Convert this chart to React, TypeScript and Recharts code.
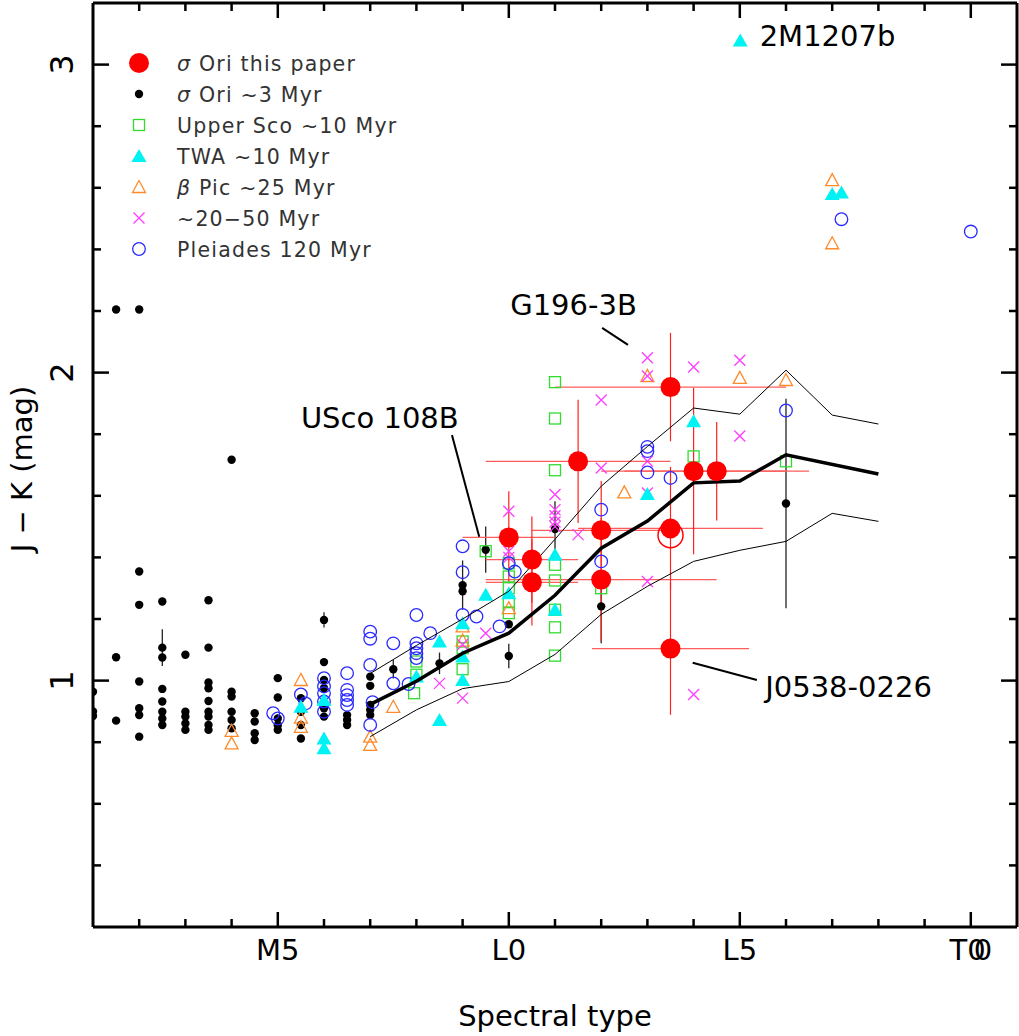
import React from "react";
import {
  ScatterChart,
  Scatter,
  XAxis,
  YAxis,
  ErrorBar,
  Legend,
  Label,
  ReferenceLine,
  ReferenceDot,
} from "recharts";

// spectral type as a number: M0 = 0, L0 = 10, T0 = 20
const spTicks = [2, 3, 4, 5, 6, 7, 8, 9, 10, 11, 12, 13, 14, 15, 16, 17, 18, 19, 20];
const spTickLabels: Record<number, string> = { 5: "M5", 10: "L0", 15: "L5", 20: "T0" };
const jkTicks = [0.4, 0.6, 0.8, 1, 1.2, 1.4, 1.6, 1.8, 2, 2.2, 2.4, 2.6, 2.8, 3];

const pts = (rows: number[][]) => rows.map(([sp, jk]) => ({ sp, jk }));

// sigma Ori, this paper: [sp, J-K, sp error, J-K error]
const sigmaOriNew = [
  [10.0, 1.465, 1.0, 0.15],
  [10.5, 1.393, 1.0, 0.14],
  [10.5, 1.319, 1.0, 0.14],
  [11.5, 1.712, 2.0, 0.2],
  [12.0, 1.488, 1.5, 0.16],
  [12.0, 1.328, 2.5, 0.2],
  [13.5, 1.953, 2.5, 0.176],
  [13.5, 1.494, 2.0, 0.2],
  [13.5, 1.104, 1.7, 0.215],
  [14.0, 1.68, 2.0, 0.27],
  [14.5, 1.68, 2.0, 0.16],
].map(([sp, jk, xe, ye]) => ({ sp, jk, xe, ye }));

const sigmaOriOpen = pts([[13.5, 1.472]]);

const sigmaOri3 = pts([
  [1, 0.964], [1, 0.9], [1, 0.885],
  [1.5, 2.205], [1.5, 1.076], [1.5, 0.87],
  [2, 2.205], [2, 1.354], [2, 1.246], [2, 0.997], [2, 0.91], [2, 0.888], [2, 0.818],
  [2.5, 1.257], [2.5, 1.075], [2.5, 0.973], [2.5, 0.932], [2.5, 0.899], [2.5, 0.877], [2.5, 0.856],
  [3, 1.084], [3, 0.899], [3, 0.883], [3, 0.861], [3, 0.84],
  [3.5, 1.261], [3.5, 1.107], [3.5, 0.994], [3.5, 0.975], [3.5, 0.934], [3.5, 0.899], [3.5, 0.883], [3.5, 0.856], [3.5, 0.84],
  [4, 1.717], [4, 0.964], [4, 0.948], [4, 0.899], [4, 0.872], [4, 0.845],
  [4.5, 0.894], [4.5, 0.867], [4.5, 0.829], [4.5, 0.807],
  [5, 1.008], [5, 0.945], [5, 0.877], [5, 0.855], [5, 0.84],
  [5.5, 0.943], [5.5, 0.899], [5.5, 0.856], [5.5, 0.812],
  [6, 1.06], [6, 1.002], [6, 0.975], [6, 0.91], [6, 0.883],
  [6.5, 0.888], [6.5, 0.872], [6.5, 0.856],
  [7, 1.013], [7, 0.983], [7, 0.921], [7, 0.905], [7, 0.888],
  [9, 1.29], [10, 1.183],
]);

// sigma Ori ~3 Myr objects with a J-K error bar
const sigmaOri3Err = [
  [2.5, 1.107, 0.06],
  [6, 1.197, 0.025],
  [7.5, 1.037, 0.03],
  [8.5, 1.056, 0.035],
  [9, 1.31, 0.08],
  [9.5, 1.425, 0.075],
  [10, 1.08, 0.04],
  [11, 1.492, 0.09],
  [12, 1.241, 0.12],
  [16, 1.575, 0.34],
].map(([sp, jk, ye]) => ({ sp, jk, ye }));

const upperSco = pts([
  [8, 1.062], [8, 1.019], [7.95, 0.959],
  [9, 1.127], [9, 1.105], [9, 1.037],
  [9.5, 1.42],
  [10, 1.381], [10, 1.338], [10, 1.3], [10, 1.257], [10, 1.219],
  [11, 1.969], [11, 1.851], [11, 1.683], [11, 1.376], [11, 1.325], [11, 1.23], [11, 1.173], [11, 1.081],
  [12, 1.3], [14, 1.728], [16, 1.712],
]);

const twa = pts([
  [5.5, 0.915], [6, 0.937], [6, 0.812], [6, 0.78],
  [8, 1.013], [8.5, 1.127], [8.5, 0.872],
  [9, 1.186], [9, 1.078], [9, 1.002],
  [9.5, 1.279], [10, 1.284], [11, 1.409], [11, 1.23],
  [13, 1.606], [14, 1.842], [17, 2.58], [17.2, 2.585],
]);

const betaPic = pts([
  [4, 0.837], [4, 0.796],
  [5.5, 1.002], [5.5, 0.88], [5.5, 0.85],
  [7, 0.818], [7, 0.791], [7.5, 0.915],
  [9, 1.176], [9, 1.13], [10, 1.235],
  [12.5, 1.611], [13, 1.989], [15, 1.983], [16, 1.976],
  [17, 2.625], [17, 2.42],
]);

const young = pts([
  [8.5, 0.991], [9, 1.117], [9, 0.943], [9.5, 1.154],
  [10, 1.55], [10, 1.42], [10, 1.4],
  [11, 1.604], [11, 1.555], [11, 1.535], [11, 1.515], [11, 1.5],
  [11.5, 1.474], [12, 1.911], [12, 1.69],
  [13, 2.048], [13, 1.989], [13, 1.712], [13, 1.609], [13, 1.322],
  [14, 2.018], [14, 0.955], [15, 2.04], [15, 1.794],
]);

const pleiades = pts([
  [4.9, 0.894], [5, 0.877], [5.5, 0.955], [5.6, 0.926],
  [6, 1.008], [6, 0.981], [6, 0.959], [6, 0.932], [6, 0.899],
  [6.5, 1.024], [6.5, 0.97], [6.5, 0.953], [6.5, 0.937], [6.5, 0.921],
  [7, 1.159], [7, 1.136], [7, 1.051], [7, 0.856], [7.05, 0.93],
  [7.5, 1.121], [7.5, 0.991], [7.83, 0.989],
  [8, 1.213], [8, 1.121], [8, 1.105], [8, 1.089], [8, 1.073], [8.3, 1.154],
  [9, 1.436], [9, 1.352], [9, 1.213], [9.3, 1.208], [9.8, 1.176],
  [10, 1.381], [10.13, 1.354],
  [12, 1.555], [12, 1.387],
  [13, 1.759], [13, 1.745], [13, 1.676], [13.5, 1.658],
  [16, 1.877], [17.2, 2.498], [20, 2.458],
]);

// field dwarf sequence: mean and its spread
const seqMean = pts([
  [7, 0.923], [8, 0.998], [9, 1.089], [10, 1.154], [11, 1.277], [12, 1.43],
  [13, 1.518], [14, 1.642], [15, 1.648], [16, 1.733], [18, 1.671],
]);
const seqUpper = pts([
  [7, 1.023], [8, 1.114], [9, 1.2], [10, 1.29], [11, 1.459], [12, 1.631],
  [13, 1.76], [14, 1.885], [15, 1.865], [16, 2.008], [17, 1.862], [18, 1.833],
]);
const seqLower = pts([
  [7, 0.818], [8, 0.905], [9, 0.974], [10, 0.997], [11, 1.085], [12, 1.215],
  [13, 1.306], [14, 1.387], [15, 1.423], [16, 1.452], [17, 1.543], [18, 1.517],
]);

// labelled objects: text anchor and leader line ends
const notes = [
  { text: "G196-3B", sp: 10.03, jk: 2.187, from: [12.02, 2.145], to: [12.58, 2.09] },
  { text: "USco 108B", sp: 5.5, jk: 1.82, from: [8.77, 1.797], to: [9.36, 1.467] },
  { text: "J0538-0226", sp: 15.55, jk: 0.946, from: [13.98, 1.058], to: [15.37, 1.002] },
];
const note2M1207 = { text: "2M1207b", sp: 15.43, jk: 3.059, markSp: 15.01, markJk: 3.078 };

const RED = "#ff0000";
const GREEN = "#30dc30";
const CYAN = "#00f2f2";
const ORANGE = "#ff8a2a";
const MAGENTA = "#ff3cff";
const BLUE = "#2a2aff";
const FONT = "DejaVu Sans, Verdana, sans-serif";

const RedDot = (p: any) => <circle cx={p.cx} cy={p.cy} r={10} fill={RED} />;
const RedRing = (p: any) => <circle cx={p.cx} cy={p.cy} r={12.5} fill="none" stroke={RED} strokeWidth={1.5} />;
const BlackDot = (p: any) => <circle cx={p.cx} cy={p.cy} r={4.2} fill="#000" />;
const GreenSquare = (p: any) => (
  <rect x={p.cx - 5.5} y={p.cy - 5.5} width={11} height={11} fill="none" stroke={GREEN} strokeWidth={1.3} />
);
const CyanTri = (p: any) => (
  <polygon points={`${p.cx},${p.cy - 7} ${p.cx - 7.5},${p.cy + 6} ${p.cx + 7.5},${p.cy + 6}`} fill={CYAN} />
);
const OrangeTri = (p: any) => (
  <polygon
    points={`${p.cx},${p.cy - 6.5} ${p.cx - 6.5},${p.cy + 5.5} ${p.cx + 6.5},${p.cy + 5.5}`}
    fill="none"
    stroke={ORANGE}
    strokeWidth={1.3}
  />
);
const MagentaX = (p: any) => (
  <path
    d={`M${p.cx - 5.5},${p.cy - 5.5}L${p.cx + 5.5},${p.cy + 5.5}M${p.cx - 5.5},${p.cy + 5.5}L${p.cx + 5.5},${p.cy - 5.5}`}
    stroke={MAGENTA}
    strokeWidth={1.3}
  />
);
const BlueRing = (p: any) => <circle cx={p.cx} cy={p.cy} r={6.3} fill="none" stroke={BLUE} strokeWidth={1.3} />;
const NoDot = () => <g />;

const legendRows = [
  { shape: RedDot, greek: "σ", rest: " Ori this paper" },
  { shape: BlackDot, greek: "σ", rest: " Ori ∼3 Myr" },
  { shape: GreenSquare, greek: "", rest: "Upper Sco ∼10 Myr" },
  { shape: CyanTri, greek: "", rest: "TWA ∼10 Myr" },
  { shape: OrangeTri, greek: "β", rest: " Pic ∼25 Myr" },
  { shape: MagentaX, greek: "", rest: "∼20−50 Myr" },
  { shape: BlueRing, greek: "", rest: "Pleiades 120 Myr" },
];

const LegendBox = () => (
  <svg width={330} height={230}>
    {legendRows.map((r, i) => {
      const cy = 23 + i * 31;
      const Shape = r.shape;
      return (
        <g key={i}>
          <Shape cx={24} cy={cy} />
          <text x={62} y={cy + 8} fontFamily={FONT} fontSize={20.5} letterSpacing={1.2} fill="#333">
            {r.greek && <tspan fontStyle="italic">{r.greek}</tspan>}
            {r.rest}
          </text>
        </g>
      );
    })}
  </svg>
);

const isMajorJk = (v: number) => Math.abs(v - Math.round(v)) < 1e-6;

const BottomTick = (props: any) => {
  const { x, y, payload } = props;
  const v = payload.value;
  const label = spTickLabels[v];
  return (
    <g>
      <line x1={x} y1={y} x2={x} y2={y - (v % 5 === 0 ? 15 : 8)} stroke="#000" strokeWidth={2.5} />
      {label && (
        <text x={x} y={y + 33} textAnchor="middle" fontFamily={FONT} fontSize={29} fill="#000">
          {label}
          {v === 20 && <tspan dx={-12}>0</tspan>}
        </text>
      )}
    </g>
  );
};

const TopTick = (props: any) => {
  const { x, y, payload } = props;
  return <line x1={x} y1={y} x2={x} y2={y + (payload.value % 5 === 0 ? 15 : 8)} stroke="#000" strokeWidth={2.5} />;
};

const LeftTick = (props: any) => {
  const { x, y, payload } = props;
  const v = payload.value;
  const major = isMajorJk(v);
  return (
    <g>
      <line x1={x} y1={y} x2={x + (major ? 16 : 8)} y2={y} stroke="#000" strokeWidth={2.5} />
      {major && (
        <text
          x={x - 20}
          y={y}
          transform={`rotate(-90 ${x - 20} ${y})`}
          textAnchor="middle"
          fontFamily={FONT}
          fontSize={32}
          fill="#000"
        >
          {Math.round(v)}
        </text>
      )}
    </g>
  );
};

const RightTick = (props: any) => {
  const { x, y, payload } = props;
  return <line x1={x} y1={y} x2={x - (isMajorJk(payload.value) ? 16 : 8)} y2={y} stroke="#000" strokeWidth={2.5} />;
};

const axisLine = { stroke: "#000", strokeWidth: 3 };

export default function App() {
  return (
    <div style={{ position: "absolute", left: 0, top: 0, background: "#fff" }}>
      <ScatterChart width={1019} height={1036} margin={{ top: 2, right: 1, bottom: 0, left: 0 }}>
        <XAxis
          xAxisId="b"
          type="number"
          dataKey="sp"
          domain={[1, 21]}
          ticks={spTicks}
          interval={0}
          allowDataOverflow
          height={109}
          tickSize={0}
          tickMargin={0}
          tick={BottomTick}
          axisLine={axisLine}
        >
          <Label
            content={(p: any) => (
              <text
                x={p.viewBox.x + p.viewBox.width / 2}
                y={p.viewBox.y + 99}
                textAnchor="middle"
                fontFamily={FONT}
                fontSize={29}
                fill="#000"
              >
                Spectral type
              </text>
            )}
          />
        </XAxis>
        <XAxis
          xAxisId="t"
          orientation="top"
          type="number"
          dataKey="sp"
          domain={[1, 21]}
          ticks={spTicks}
          interval={0}
          allowDataOverflow
          height={1}
          tickSize={0}
          tickMargin={0}
          tick={TopTick}
          axisLine={axisLine}
        />
        <YAxis
          yAxisId="l"
          type="number"
          dataKey="jk"
          domain={[0.2, 3.2]}
          ticks={jkTicks}
          interval={0}
          allowDataOverflow
          width={93}
          tickSize={0}
          tickMargin={0}
          tick={LeftTick}
          axisLine={axisLine}
        >
          <Label
            content={(p: any) => {
              const cx = p.viewBox.x + 32;
              const cy = p.viewBox.y + p.viewBox.height / 2 + 4;
              return (
                <text
                  x={cx}
                  y={cy}
                  transform={`rotate(-90 ${cx} ${cy})`}
                  textAnchor="middle"
                  fontFamily={FONT}
                  fontSize={29}
                  fill="#000"
                >
                  J − K (mag)
                </text>
              );
            }}
          />
        </YAxis>
        <YAxis
          yAxisId="r"
          orientation="right"
          type="number"
          dataKey="jk"
          domain={[0.2, 3.2]}
          ticks={jkTicks}
          interval={0}
          allowDataOverflow
          width={1}
          tickSize={0}
          tickMargin={0}
          tick={RightTick}
          axisLine={axisLine}
        />

        <Legend
          content={LegendBox}
          layout="vertical"
          align="center"
          verticalAlign="middle"
          wrapperStyle={{ left: 115, top: 40, width: 330, height: 230 }}
        />

        {/* invisible copy of the mean sequence so the top and right frame axes get drawn */}
        <Scatter xAxisId="t" yAxisId="r" data={seqMean} shape={NoDot} isAnimationActive={false} legendType="none" />

        <Scatter xAxisId="b" yAxisId="l" data={sigmaOri3} shape={BlackDot} isAnimationActive={false} legendType="none" />
        <Scatter xAxisId="b" yAxisId="l" data={sigmaOri3Err} shape={BlackDot} isAnimationActive={false} legendType="none">
          <ErrorBar dataKey="ye" direction="y" width={0} stroke="#222" strokeWidth={1.3} />
        </Scatter>
        <Scatter xAxisId="b" yAxisId="l" data={upperSco} shape={GreenSquare} isAnimationActive={false} legendType="none" />
        <Scatter xAxisId="b" yAxisId="l" data={betaPic} shape={OrangeTri} isAnimationActive={false} legendType="none" />
        <Scatter xAxisId="b" yAxisId="l" data={young} shape={MagentaX} isAnimationActive={false} legendType="none" />
        <Scatter xAxisId="b" yAxisId="l" data={pleiades} shape={BlueRing} isAnimationActive={false} legendType="none" />
        <Scatter xAxisId="b" yAxisId="l" data={twa} shape={CyanTri} isAnimationActive={false} legendType="none" />

        <Scatter xAxisId="b" yAxisId="l" data={seqUpper} shape={NoDot} line={{ stroke: "#000", strokeWidth: 1 }} isAnimationActive={false} legendType="none" />
        <Scatter xAxisId="b" yAxisId="l" data={seqLower} shape={NoDot} line={{ stroke: "#000", strokeWidth: 1 }} isAnimationActive={false} legendType="none" />
        <Scatter xAxisId="b" yAxisId="l" data={seqMean} shape={NoDot} line={{ stroke: "#000", strokeWidth: 3.5 }} isAnimationActive={false} legendType="none" />

        <Scatter xAxisId="b" yAxisId="l" data={sigmaOriNew} shape={RedDot} isAnimationActive={false} legendType="none">
          <ErrorBar dataKey="xe" direction="x" width={0} stroke="#ff5c5c" strokeWidth={1.2} />
          <ErrorBar dataKey="ye" direction="y" width={0} stroke="#ff2020" strokeWidth={1.2} />
        </Scatter>
        <Scatter xAxisId="b" yAxisId="l" data={sigmaOriOpen} shape={RedRing} isAnimationActive={false} legendType="none" />

        {notes.map((n) => (
          <ReferenceLine
            key={n.text + "-line"}
            xAxisId="b"
            yAxisId="l"
            segment={[
              { x: n.from[0], y: n.from[1] },
              { x: n.to[0], y: n.to[1] },
            ]}
            stroke="#000"
            strokeWidth={2}
          />
        ))}
        {notes.map((n) => (
          <ReferenceDot
            key={n.text}
            xAxisId="b"
            yAxisId="l"
            x={n.sp}
            y={n.jk}
            r={0}
            shape={(p: any) => (
              <text x={p.cx} y={p.cy} fontFamily={FONT} fontSize={29} fill="#000">
                {n.text}
              </text>
            )}
          />
        ))}
        <ReferenceDot
          xAxisId="b"
          yAxisId="l"
          x={note2M1207.markSp}
          y={note2M1207.markJk}
          r={0}
          shape={(p: any) => <CyanTri cx={p.cx} cy={p.cy} />}
        />
        <ReferenceDot
          xAxisId="b"
          yAxisId="l"
          x={note2M1207.sp}
          y={note2M1207.jk}
          r={0}
          shape={(p: any) => (
            <text x={p.cx} y={p.cy} fontFamily={FONT} fontSize={29} fill="#000">
              {note2M1207.text}
            </text>
          )}
        />
      </ScatterChart>
    </div>
  );
}
